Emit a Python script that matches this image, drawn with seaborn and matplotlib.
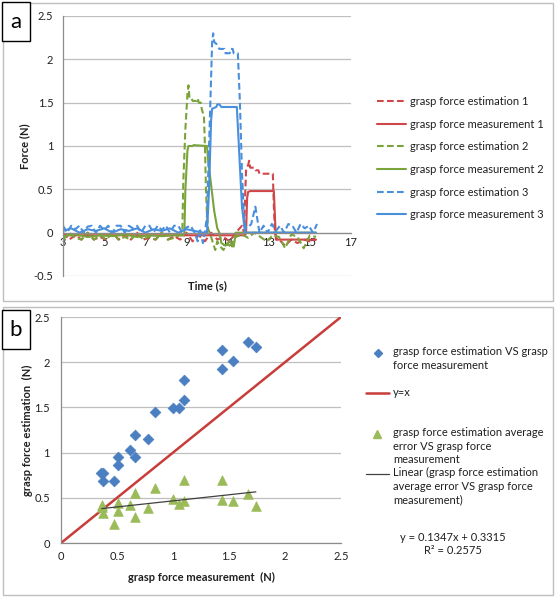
import matplotlib
matplotlib.use("Agg")
from matplotlib import pyplot as plt
from matplotlib.patches import Rectangle
from matplotlib.lines import Line2D
from matplotlib.ticker import FuncFormatter
import numpy as np
import seaborn as sns

# ---------------- panel a : grasp force traces (time in s, force in N) ----------------
# noisy baseline parts are typed as value lists on a regular time grid (start, step)
est1_base = (3.0, 0.3, [0, -0.08, -0.03, -0.08, 0, -0.08, -0.05, -0.08, 0, -0.08, -0.02, -0.08,
                        0, -0.08, -0.06, -0.08, 0, -0.08, -0.04, -0.08, 0, -0.1, -0.03, -0.1,
                        0, -0.08, -0.05, -0.1, 0.0, 0.08])
est1_pulse = [(11.8, 0.0), (11.85, 0.4), (11.9, 0.72), (12.0, 0.78), (12.05, 0.83), (12.1, 0.75),
              (12.3, 0.75), (12.35, 0.72), (12.5, 0.72), (12.55, 0.68), (13.2, 0.68), (13.25, 0.3),
              (13.3, 0.0), (13.4, -0.08)]
est1_tail = (13.5, 0.3, [-0.08, -0.15, -0.08, -0.12, -0.08, -0.1, -0.08])

meas1_pts = [(3.0, -0.03), (11.85, -0.03), (11.9, 0.0), (11.95, 0.4), (12.0, 0.47), (12.1, 0.48),
             (13.25, 0.48), (13.3, 0.2), (13.35, -0.08), (15.3, -0.08)]

est2_base = (3.0, 0.3, [-0.08, 0, -0.06, -0.08, 0, -0.08, -0.03, -0.08, 0, -0.08, -0.05, -0.08,
                        0, -0.08, -0.04, -0.08, 0, -0.08, -0.06, -0.02])
est2_pulse = [(8.8, 0.0), (8.85, 0.6), (8.95, 1.2), (9.05, 1.6), (9.1, 1.7), (9.15, 1.55),
              (9.25, 1.55), (9.3, 1.52), (9.5, 1.52), (9.55, 1.55), (9.6, 1.5), (9.7, 1.5),
              (9.75, 1.42), (9.85, 1.35), (9.9, 1.0), (9.95, 0.5), (10.0, 0.2), (10.05, 0.05),
              (10.2, -0.05), (10.4, -0.2), (10.5, -0.1), (10.6, -0.15), (10.8, -0.2),
              (11.0, -0.12), (11.2, -0.18), (11.3, -0.05)]
est2_tail = (11.4, 0.3, [-0.05, -0.02, -0.06, 0, -0.05, -0.1, -0.03, -0.05, -0.18, -0.02,
                         -0.05, -0.18, -0.03, -0.05])

meas2_base = (3.0, 0.6, [-0.04, -0.02, -0.05, -0.03, -0.04, -0.02, -0.05, -0.03, -0.04, -0.03])
meas2_pulse = [(8.85, -0.03), (8.9, 0.0), (8.95, 0.5), (9.05, 0.95), (9.1, 1.0), (9.3, 1.0),
               (9.35, 1.01), (10.0, 1.0), (10.05, 0.85), (10.2, 0.55), (10.35, 0.25),
               (10.5, 0.05), (10.6, 0.0), (10.7, -0.12), (10.9, -0.15), (11.1, -0.1),
               (11.3, -0.16), (11.4, 0.0), (15.3, 0.0)]

est3_base = (3.0, 0.2, [0.08, 0, 0.08, 0.04, 0.08, 0, 0.07, 0.08, 0, 0.08, 0.03, 0.08, 0, 0.08,
                        0.08, 0, 0.08, 0.05, 0.08, 0, 0.08, 0.08, 0, 0.08, 0.03, 0.08, 0, 0.08,
                        0.08, 0, 0.06, 0.08, 0])
est3_pulse = [(9.55, -0.1), (9.65, 0.05), (9.8, -0.12), (9.9, 0.0), (10.0, 0.2), (10.1, 1.0),
              (10.2, 1.8), (10.25, 2.2), (10.3, 2.3), (10.35, 2.2), (10.45, 2.18), (10.6, 2.12),
              (10.85, 2.12), (10.9, 2.07), (11.1, 2.07), (11.15, 2.12), (11.25, 2.12),
              (11.3, 2.07), (11.5, 2.07), (11.6, 1.5), (11.7, 0.7), (11.8, 0.15), (11.9, 0.05)]
est3_tail = (11.95, 0.2, [0.05, 0.1, 0.3, 0.0, 0.08, 0, 0.1, 0.02, 0.08, 0, 0.1, 0.08, 0, 0.1,
                          0.05, 0.08, 0, 0.1])

meas3_base = (3.0, 0.4, [0.02, 0.05, 0.0, 0.04, 0.02, 0.05, 0.0, 0.04, 0.02, 0.05, 0.0, 0.04,
                         0.02, 0.05, 0.0, 0.04, 0.02, 0.0])
meas3_pulse = [(10.0, 0.0), (10.1, 0.5), (10.2, 1.3), (10.25, 1.43), (10.45, 1.45), (10.5, 1.48),
               (10.6, 1.48), (10.7, 1.45), (11.45, 1.45), (11.55, 1.0), (11.7, 0.3),
               (11.85, 0.0), (15.3, 0.0)]

trace_labels = ["grasp force estimation 1", "grasp force measurement 1",
                "grasp force estimation 2", "grasp force measurement 2",
                "grasp force estimation 3", "grasp force measurement 3"]

# ---------------- panel b : estimation vs measurement ----------------
meas_b = [0.354, 0.378, 0.372, 0.476, 0.512, 0.512, 0.616, 0.66, 0.66, 0.78,
          0.84, 1.0, 1.054, 1.10, 1.10, 1.435, 1.435, 1.54, 1.67, 1.74]
est_b = [0.774, 0.774, 0.69, 0.69, 0.86, 0.948, 1.03, 0.948, 1.2, 1.15,
         1.45, 1.49, 1.49, 1.58, 1.80, 1.92, 2.14, 2.01, 2.22, 2.17]
err_meas_b = [0.364, 0.379, 0.37, 0.477, 0.51, 0.51, 0.616, 0.66, 0.66, 0.78,
              0.84, 1.0, 1.054, 1.10, 1.10, 1.435, 1.435, 1.54, 1.67, 1.74]
err_b = [0.42, 0.33, 0.40, 0.21, 0.44, 0.35, 0.42, 0.55, 0.29, 0.385,
         0.61, 0.49, 0.43, 0.70, 0.47, 0.70, 0.48, 0.46, 0.54, 0.41]
identity = [0, 2.5]
trend_slope, trend_icpt = 0.1347, 0.3315


def grid_part(part):
    """turn (start, step, values) into (t, v) pairs"""
    t0, dt, vals = part
    return [(round(t0 + i * dt, 3), v) for i, v in enumerate(vals)]


def unzip(pts):
    t, v = zip(*pts)
    return list(t), list(v)


traces = [
    grid_part(est1_base) + est1_pulse + grid_part(est1_tail),
    meas1_pts,
    grid_part(est2_base) + est2_pulse + grid_part(est2_tail),
    grid_part(meas2_base) + meas2_pulse,
    grid_part(est3_base) + est3_pulse + grid_part(est3_tail),
    grid_part(meas3_base) + meas3_pulse,
]

RED, GREEN, BLUE = "#d0464a", "#7aa33a", "#4a8fdb"
trace_colors = [RED, RED, GREEN, GREEN, BLUE, BLUE]
DASH = (0, (3.2, 1.6))
trace_styles = [DASH, "-", DASH, "-", DASH, "-"]

sns.set_style("white")
plt.rcParams["font.family"] = ["Lato", "DejaVu Sans"]
TXT = "#1f1f1f"
GRID = "#bfbfbf"
AXC = "#8c8c8c"
FS = 8

W, H = 557, 600
fig = plt.figure(figsize=(W / 100, H / 100), dpi=100)


def fx(px):
    return px / W


def fy(py):
    return 1 - py / H


# outer panel frames and a/b label boxes
for (x0, y0, x1, y1) in [(3, 3, 553, 301), (3, 307, 553, 595)]:
    fig.add_artist(Rectangle((fx(x0), fy(y1)), fx(x1 - x0), (y1 - y0) / H,
                             transform=fig.transFigure, fill=False, ec="#bfbfbf", lw=1))
for lab, (x0, y0, x1, y1) in [("a", (2, 2, 30, 41)), ("b", (2, 310, 30, 349))]:
    fig.add_artist(Rectangle((fx(x0), fy(y1)), fx(x1 - x0), (y1 - y0) / H,
                             transform=fig.transFigure, fill=True, fc="white", ec="black", lw=1))
    fig.text(fx((x0 + x1) / 2), fy((y0 + y1) / 2 + 1), lab, ha="center", va="center",
             fontsize=16, color="black")

# ---------------- panel a ----------------
ax = fig.add_axes([fx(63), fy(276), fx(351 - 63), 260 / H])
for pts, col, ls, lab in zip(traces, trace_colors, trace_styles, trace_labels):
    t, v = unzip(pts)
    sns.lineplot(x=t, y=v, ax=ax, color=col, linestyle=ls, lw=1.5, sort=False,
                 estimator=None, label=lab, legend=False)

ax.set_xlim(3, 17)
ax.set_ylim(-0.5, 2.5)
ax.set_xticks(range(3, 18, 2))
ax.set_yticks(np.arange(-0.5, 2.51, 0.5))
ax.yaxis.set_major_formatter(FuncFormatter(lambda v, p: f"{v:g}"))
ax.grid(axis="y", color=GRID, lw=0.9)
ax.set_axisbelow(True)
for s in ["top", "right"]:
    ax.spines[s].set_visible(False)
ax.spines["bottom"].set_position(("data", 0))
ax.spines["bottom"].set_color(AXC)
ax.spines["left"].set_color(AXC)
ax.spines["bottom"].set_linewidth(0.9)
ax.spines["left"].set_linewidth(0.9)
ax.tick_params(axis="x", length=3, direction="in", color=AXC, pad=3, labelsize=FS, labelcolor=TXT)
ax.tick_params(axis="y", length=0, pad=7, labelsize=FS, labelcolor=TXT)
ax.set_xlabel("")
ax.set_ylabel("")
ax.text(0.5, -10 / 260, "Time (s)", transform=ax.transAxes, ha="center", va="center",
        fontsize=FS, fontweight="bold", color=TXT)
fig.text(fx(25), fy(146), "Force (N)", rotation=90, ha="center", va="center",
         fontsize=FS, fontweight="bold", color=TXT)

ax.legend(ax.get_lines()[:6], trace_labels, loc="upper left",
          bbox_to_anchor=(fx(377), fy(96)), bbox_transform=fig.transFigure,
          frameon=False, fontsize=FS, handlelength=2.6, handletextpad=0.35,
          labelspacing=1.05, borderaxespad=0, borderpad=0, labelcolor=TXT)

# ---------------- panel b ----------------
bx = fig.add_axes([fx(61), fy(543), fx(341 - 61), 226 / H])
sns.lineplot(x=identity, y=identity, ax=bx, color="#c83c3a", lw=1.8, estimator=None)
sns.scatterplot(x=meas_b, y=est_b, ax=bx, marker="D", s=30, color="#4a7fc1",
                edgecolor="#4a7fc1", linewidth=0.5, zorder=3)
sns.scatterplot(x=err_meas_b, y=err_b, ax=bx, marker="^", s=48, color="#9bbb59",
                edgecolor="#9bbb59", linewidth=0.5, zorder=3)
xt = [min(err_meas_b), max(err_meas_b)]
sns.lineplot(x=xt, y=[trend_slope * x + trend_icpt for x in xt], ax=bx, color="#404040",
             lw=0.9, estimator=None, zorder=4)

bx.set_xlim(0, 2.5)
bx.set_ylim(0, 2.5)
bx.set_xticks(np.arange(0, 2.51, 0.5))
bx.set_yticks(np.arange(0, 2.51, 0.5))
fmt = FuncFormatter(lambda v, p: f"{v:g}")
bx.xaxis.set_major_formatter(fmt)
bx.yaxis.set_major_formatter(fmt)
bx.grid(axis="y", color=GRID, lw=0.9)
bx.set_axisbelow(True)
for s in ["top", "right"]:
    bx.spines[s].set_visible(False)
for s in ["bottom", "left"]:
    bx.spines[s].set_color(AXC)
    bx.spines[s].set_linewidth(0.9)
bx.tick_params(axis="x", length=0, pad=6, labelsize=FS, labelcolor=TXT)
bx.tick_params(axis="y", length=0, pad=8, labelsize=FS, labelcolor=TXT)
bx.set_xlabel("")
bx.set_ylabel("")
fig.text(fx(201), fy(577), "grasp force measurement  (N)", ha="center", va="center",
         fontsize=FS, fontweight="bold", color=TXT)
fig.text(fx(27), fy(430), "grasp force estimation  (N)", rotation=90, ha="center",
         va="center", fontsize=FS, fontweight="bold", color=TXT)

# legend of panel b, laid out like the spreadsheet legend
leg_x = fx(393)
fig.add_artist(Line2D([fx(378)], [fy(353)], marker="D", ms=4, color="#4a7fc1",
                      transform=fig.transFigure))
fig.text(leg_x, fy(346), "grasp force estimation VS grasp\nforce measurement", ha="left",
         va="top", fontsize=FS, color=TXT, linespacing=1.3)
fig.add_artist(Line2D([fx(366), fx(389)], [fy(393), fy(393)], color="#c83c3a", lw=1.8,
                      transform=fig.transFigure))
fig.text(leg_x, fy(393), "y=x", ha="left", va="center", fontsize=FS, color=TXT)
fig.add_artist(Line2D([fx(377)], [fy(434)], marker="^", ms=5.5, color="#9bbb59",
                      transform=fig.transFigure))
fig.text(leg_x, fy(427), "grasp force estimation average\nerror VS grasp force\nmeasurement",
         ha="left", va="top", fontsize=FS, color=TXT, linespacing=1.3)
fig.add_artist(Line2D([fx(366), fx(389)], [fy(474), fy(474)], color="#404040", lw=0.9,
                      transform=fig.transFigure))
fig.text(leg_x, fy(467), "Linear (grasp force estimation\naverage error VS grasp force\nmeasurement)",
         ha="left", va="top", fontsize=FS, color=TXT, linespacing=1.3)
fig.text(fx(453), fy(544), f"y = {trend_slope}x + {trend_icpt}\nR² = 0.2575", ha="center",
         va="center", fontsize=FS, color=TXT, linespacing=1.3)

fig.savefig("out.png", dpi=100)
